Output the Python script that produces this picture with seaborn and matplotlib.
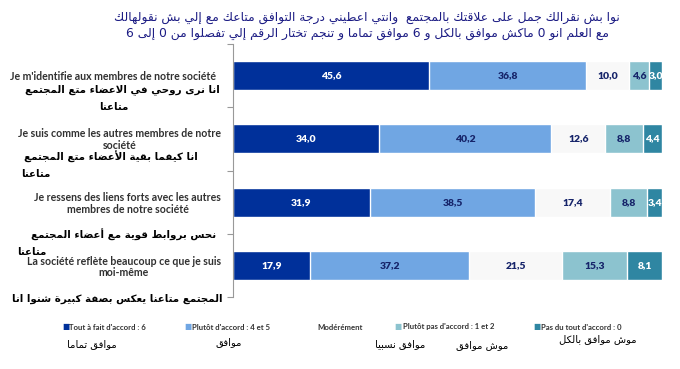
import re
import matplotlib
matplotlib.use("Agg")
import matplotlib.pyplot as plt
import numpy as np
import seaborn as sns

# ---- data ----
categories = ["q1", "q2", "q3", "q4"]
labels_fr = [
    "Je m'identifie aux membres de notre société",
    "Je suis comme les autres membres de notre\nsociété",
    "Je ressens des liens forts avec les autres\nmembres de notre société",
    "La société reflète beaucoup ce que je suis\nmoi-même",
]
labels_ar = [
    ["انا نرى روحي في الاعضاء متع المجتمع", "متاعنا"],
    ["انا كيفما بقية الأعضاء متع المجتمع", "متاعنا"],
    ["نحس بروابط قوية مع أعضاء المجتمع", "متاعنا"],
    ["المجتمع متاعنا يعكس بصفة كبيرة شنوا انا"],
]
tout_a_fait = [45.6, 34.0, 31.9, 17.9]
plutot_accord = [36.8, 40.2, 38.5, 37.2]
moderement = [10.0, 12.6, 17.4, 21.5]
plutot_pas = [4.6, 8.8, 8.8, 15.3]
pas_du_tout = [3.0, 4.4, 3.4, 8.1]

series_fr = ["Tout à fait d'accord : 6", "Plutôt d'accord : 4 et 5", "Modérément",
             "Plutôt pas d'accord : 1 et 2", "Pas du tout d'accord : 0"]
series_ar = ["موافق تماما", "موافق", "موافق نسبيا", "موش موافق", "موش موافق بالكل"]
title_ar = [
    "نوا بش نقرالك جمل على علاقتك بالمجتمع  وانتي اعطيني درجة التوافق متاعك مع إلي بش نقولهالك",
    "مع العلم انو 0 ماكش موافق بالكل و 6 موافق تماما و تنجم تختار الرقم إلي تفصلوا من 0 إلى 6",
]

colors = ["#00309a", "#70a6e3", "#f8f8f8", "#8cc3cf", "#2f86a2"]
value_colors = ["white", "#16246a", "#16246a", "#16246a", "white"]

# ---- minimal arabic shaping (matplotlib has no complex text layout) ----
FORMS = {
    "ء": (0xFE80, 1), "آ": (0xFE81, 2), "أ": (0xFE83, 2), "ؤ": (0xFE85, 2),
    "إ": (0xFE87, 2), "ئ": (0xFE89, 4), "ا": (0xFE8D, 2), "ب": (0xFE8F, 4),
    "ة": (0xFE93, 2), "ت": (0xFE95, 4), "ث": (0xFE99, 4), "ج": (0xFE9D, 4),
    "ح": (0xFEA1, 4), "خ": (0xFEA5, 4), "د": (0xFEA9, 2), "ذ": (0xFEAB, 2),
    "ر": (0xFEAD, 2), "ز": (0xFEAF, 2), "س": (0xFEB1, 4), "ش": (0xFEB5, 4),
    "ص": (0xFEB9, 4), "ض": (0xFEBD, 4), "ط": (0xFEC1, 4), "ظ": (0xFEC5, 4),
    "ع": (0xFEC9, 4), "غ": (0xFECD, 4), "ف": (0xFED1, 4), "ق": (0xFED5, 4),
    "ك": (0xFED9, 4), "ل": (0xFEDD, 4), "م": (0xFEE1, 4), "ن": (0xFEE5, 4),
    "ه": (0xFEE9, 4), "و": (0xFEED, 2), "ى": (0xFEEF, 2), "ي": (0xFEF1, 4),
}
LAM_ALEF = {"ا": 0xFEFB, "أ": 0xFEF7, "إ": 0xFEF9, "آ": 0xFEF5}


def shape(s):
    toks = []
    i = 0
    while i < len(s):
        if s[i] == "ل" and i + 1 < len(s) and s[i + 1] in LAM_ALEF:
            toks.append(("LA", s[i + 1]))
            i += 2
        else:
            toks.append(s[i])
            i += 1

    def joins(t):
        return isinstance(t, tuple) or (t in FORMS and FORMS[t][1] > 1)

    def dual(t):
        return (not isinstance(t, tuple)) and t in FORMS and FORMS[t][1] == 4

    out = []
    for k, t in enumerate(toks):
        prev = k > 0 and dual(toks[k - 1]) and joins(t)
        if isinstance(t, tuple):
            out.append(chr(LAM_ALEF[t[1]] + (1 if prev else 0)))
            continue
        if t not in FORMS:
            out.append(t)
            continue
        base, n = FORMS[t]
        nxt = n == 4 and k + 1 < len(toks) and joins(toks[k + 1])
        if n == 1:
            off = 0
        elif n == 2:
            off = 1 if prev else 0
        else:
            off = 3 if (prev and nxt) else 1 if prev else 2 if nxt else 0
        out.append(chr(base + off))
    runs = re.findall(r"[0-9]+|.", "".join(out))
    return "".join(runs[::-1])


# ---- figure ----
sns.set_style("white")
W, H = 680, 369
fig = plt.figure(figsize=(W / 100, H / 100), dpi=100)
ax = fig.add_axes([233 / W, 1 - 297 / H, (662 - 233) / W, (297 - 44) / H])

segments = np.array([tout_a_fait, plutot_accord, moderement, plutot_pas, pas_du_tout])
cum = segments.cumsum(axis=0)
for k in range(4, -1, -1):
    sns.barplot(x=cum[k], y=categories, orient="h", color=colors[k], width=0.46,
                edgecolor="white", linewidth=1.0, saturation=1, ax=ax)

for k in range(5):
    for i in range(4):
        v = segments[k, i]
        left = cum[k, i] - v
        ax.text(left + v / 2, i, f"{v:.1f}".replace(".", ","), ha="center", va="center",
                fontsize=7.5, fontweight="heavy", color=value_colors[k],
                family="Lato", clip_on=True)

ax.set_xlim(0, 100)
ax.set_ylim(3.5, -0.5)
ax.set_yticks([-0.5, 0.5, 1.5, 2.5, 3.5], labels=[])
ax.set_xticks([])
ax.set_xlabel("")
ax.set_ylabel("")
ax.tick_params(axis="y", length=4, color="#999999", left=True, width=0.8)
for side in ["top", "right", "bottom"]:
    ax.spines[side].set_visible(False)
ax.spines["left"].set_color("#999999")
ax.spines["left"].set_linewidth(0.8)


def ftext(x, y, s, **kw):
    fig.text(x / W, 1 - y / H, s, **kw)


# french category labels
fr_y = [76, 139.5, 203.5, 267]
fr_x = [216, 221, 221, 221]
for i, lab in enumerate(labels_fr):
    ftext(fr_x[i], fr_y[i], lab, ha="right", va="center", multialignment="center",
          fontsize=7.6, fontweight="bold", color="#303030", family="Lato",
          linespacing=1.05)

# arabic category labels
ar_pos = [[(220, 90, "right"), (114, 107, "center")],
          [(198, 157, "right"), (50, 174, "right")],
          [(216, 235, "right"), (46, 252, "right")],
          [(222, 299, "right")]]
for i, lines in enumerate(labels_ar):
    for (x, y, ha), s in zip(ar_pos[i], lines):
        ftext(x, y, shape(s), ha=ha, va="center", fontsize=7.4, fontweight="bold",
              color="black", family="DejaVu Sans")

# title
for s, y in zip(title_ar, [18, 33]):
    ftext(367, y, shape(s), ha="center", va="center", fontsize=8.9,
          color="#1c1c84", family="DejaVu Sans")

# legend
marker_x = [66, 188, None, 398, 537]
text_x = [69, 192, 317, 403, 541]
ar_leg = [(92, 344), (229, 342), (400, 344), (482, 345), (598, 339)]
for k in range(5):
    if marker_x[k] is not None:
        ftext(marker_x[k], 327, "■", ha="center", va="center", fontsize=5.5,
              color=colors[k], family="DejaVu Sans")
    ftext(text_x[k], 327, series_fr[k], ha="left", va="center", fontsize=5.6,
          fontweight="bold", color="#333333", family="Lato")
    ftext(ar_leg[k][0], ar_leg[k][1], shape(series_ar[k]), ha="center", va="center",
          fontsize=7.2, color="black", family="DejaVu Sans")

fig.savefig("out.png", dpi=100)
